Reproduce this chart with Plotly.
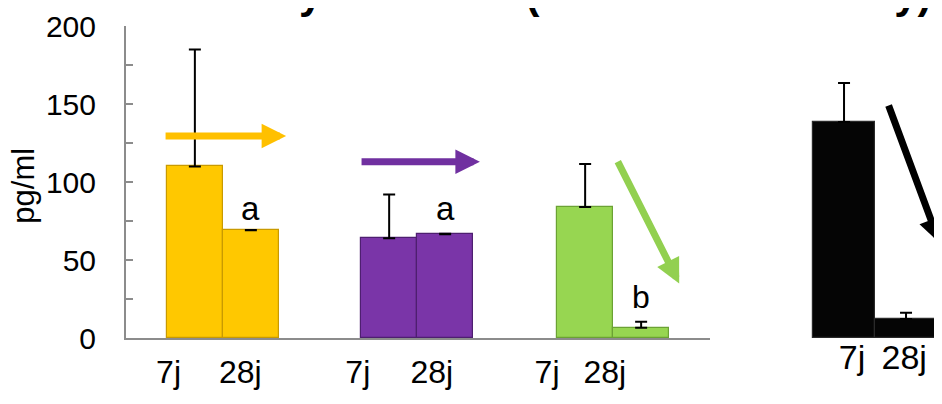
import plotly.graph_objects as go

# bar data (pg/ml)
days = ["7j", "28j"]
yellow_vals = [110, 69]
yellow_err = [75, 0.3]
purple_vals = [64, 66.5]
purple_err = [28, 0.3]
green_vals = [84, 6.6]
green_err = [27.5, 3.8]
black_vals = [138.5, 12.2]
black_err = [25, 4]

# bar positions on the x axes (1 unit = one bar width)
yellow_x = [1.23, 2.23]
purple_x = [4.70, 5.70]
green_x = [8.20, 9.20]
black_x = [0.71, 1.71]

# where the day labels sit under each pair
main_label_x = [0.76, 2.04, 4.14, 5.46, 7.52, 8.55]
main_label_text = days * 3
black_label_x = [0.84, 1.68]

y_ticks = [0, 25, 50, 75, 100, 125, 150, 175, 200]
y_ticktext = ["0", "", "50", "", "100", "", "150", "", "200"]

FONT = "Arial, Liberation Sans, sans-serif"

fig = go.Figure()


def add_bars(xs, vals, errs, color, edge, axis="x"):
    fig.add_trace(go.Bar(
        x=xs, y=vals, width=1.0,
        marker=dict(color=color, line=dict(color=edge, width=1.2)),
        error_y=dict(type="data", array=errs, arrayminus=[0] * len(errs),
                     symmetric=False, color="black", thickness=2, width=6),
        xaxis=axis, yaxis="y", showlegend=False, hoverinfo="y",
    ))


add_bars(yellow_x, yellow_vals, yellow_err, "#FFC800", "#C99A00")
add_bars(purple_x, purple_vals, purple_err, "#7A35A8", "#4E1F70")
add_bars(green_x, green_vals, green_err, "#97D651", "#6BA234")
add_bars(black_x, black_vals, black_err, "#050505", "#2A2A2A", axis="x2")

# significance letters
for x, y, t, s in [(yellow_x[1], 83, "a", 33), (purple_x[1], 83, "a", 33),
                   (green_x[1], 26, "b", 32)]:
    fig.add_annotation(x=x, y=y, text=t, showarrow=False,
                       font=dict(size=s, color="black", family=FONT))

# trend arrows
arrows = [
    # x tail, y tail, x head, y head, color, axis
    (0.68, 129.5, 2.86, 129.5, "#FFC000", "x"),
    (4.18, 113, 6.32, 113, "#7030A0", "x"),
    (8.77, 114, 9.88, 35, "#92D050", "x"),
    (1.42, 150, 2.25, 61, "#000000", "x2"),
]
for xt, yt, xh, yh, col, ax in arrows:
    fig.add_annotation(x=xh, y=yh, ax=xt, ay=yt, xref=ax, yref="y",
                       axref=ax, ayref="y", text="", showarrow=True,
                       arrowhead=2, arrowsize=0.7, arrowwidth=7,
                       arrowcolor=col)

# y axis title
fig.add_annotation(x=-0.149, y=0.488, xref="paper", yref="paper",
                   text="pg/ml", textangle=-90, showarrow=False,
                   font=dict(size=31, color="black", family=FONT))

# cut-off slide title at the very top
fig.add_annotation(x=812 / 816 - 0.005, y=1.022, xref="paper", yref="paper",
                   xanchor="right", yanchor="bottom", showarrow=False,
                   text="<b>Sécrétion de cytokine TC (IL2 et TNF memory)</b>",
                   font=dict(size=42, color="black", family=FONT))

# the page adds an 8px body margin, so the figure is 8px smaller each way
fig.update_layout(
    width=934, height=396,
    margin=dict(l=118, r=0, t=18, b=66, autoexpand=False),
    paper_bgcolor="white", plot_bgcolor="white",
    barmode="overlay", bargap=0,
    font=dict(family=FONT, color="black"),
    xaxis=dict(domain=[0, 584 / 816], range=[0, 10.43], automargin=False,
               showline=True, linecolor="#8C8C8C", linewidth=2,
               showgrid=False, zeroline=False, ticks="",
               tickvals=main_label_x, ticktext=main_label_text,
               tickfont=dict(size=32), ticklabelstandoff=5),
    xaxis2=dict(domain=[674 / 816, 1], range=[0, 2.29], anchor="y",
                automargin=False,
                showline=False, showgrid=False, zeroline=False, ticks="",
                tickvals=black_label_x, ticktext=days,
                tickfont=dict(size=34), ticklabelstandoff=-4),
    yaxis=dict(range=[0, 200], showline=True, linecolor="#8C8C8C", linewidth=2,
               automargin=False,
               showgrid=False, zeroline=False, ticks="inside", ticklen=7,
               tickcolor="#8C8C8C", tickwidth=2,
               tickvals=y_ticks, ticktext=y_ticktext,
               tickfont=dict(size=30), ticklabelstandoff=22),
)

fig.write_html("out.html")
